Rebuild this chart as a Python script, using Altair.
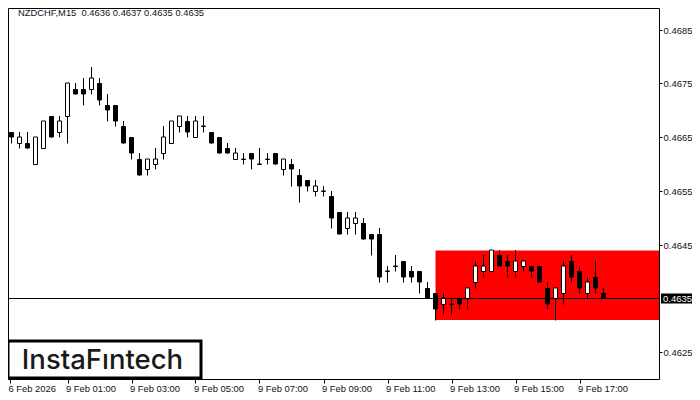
import altair as alt
import json
import pandas as pd

# quotes of NZDCHF M15, in order from the left edge of the chart
opens = [0.4662, 0.4666, 0.4664, 0.4664, 0.4660, 0.4663, 0.4669, 0.4666, 0.4669, 0.4674,
         0.4674, 0.4674, 0.4675, 0.4671, 0.4671, 0.4667, 0.4665, 0.4661, 0.4659, 0.4660,
         0.4662, 0.4664, 0.4667, 0.4668, 0.4665, 0.4667, 0.4666, 0.4665, 0.4663, 0.4661,
         0.4661, 0.4662, 0.4660, 0.4661, 0.4662, 0.4659, 0.4660, 0.4658, 0.4657, 0.4655,
         0.4655, 0.4654, 0.4651, 0.4648, 0.4649, 0.4649, 0.4647, 0.4647, 0.4640, 0.4641,
         0.4642, 0.4640, 0.4640, 0.4637, 0.4636, 0.4634, 0.4634, 0.4635, 0.4635, 0.4638,
         0.4640, 0.4640, 0.4643, 0.4642, 0.4640, 0.4641, 0.4641, 0.4641, 0.4637, 0.4635,
         0.4636, 0.4642, 0.4640, 0.4636, 0.4639, 0.4636]
highs = [0.4665, 0.4666, 0.4666, 0.4666, 0.4665, 0.4668, 0.4669, 0.4669, 0.4675, 0.4675,
         0.4676, 0.4678, 0.4676, 0.4673, 0.4671, 0.4668, 0.4665, 0.4662, 0.4661, 0.4663,
         0.4667, 0.4668, 0.4669, 0.4669, 0.4669, 0.4669, 0.4666, 0.4665, 0.4664, 0.4663,
         0.4662, 0.4662, 0.4663, 0.4662, 0.4662, 0.4661, 0.4661, 0.4659, 0.4657, 0.4657,
         0.4656, 0.4655, 0.4651, 0.4651, 0.4651, 0.4650, 0.4647, 0.4648, 0.4641, 0.4643,
         0.4642, 0.4641, 0.4640, 0.4638, 0.4636, 0.4636, 0.4635, 0.4635, 0.4637, 0.4642,
         0.4643, 0.4644, 0.4644, 0.4643, 0.4644, 0.4642, 0.4641, 0.4641, 0.4638, 0.4637,
         0.4642, 0.4643, 0.4641, 0.4639, 0.4642, 0.4637]
lows = [0.4662, 0.4664, 0.4663, 0.4663, 0.4660, 0.4663, 0.4665, 0.4665, 0.4664, 0.4673,
        0.4671, 0.4673, 0.4671, 0.4668, 0.4667, 0.4664, 0.4661, 0.4658, 0.4658, 0.4659,
        0.4661, 0.4664, 0.4666, 0.4665, 0.4665, 0.4666, 0.4664, 0.4662, 0.4662, 0.4661,
        0.4660, 0.4659, 0.4660, 0.4660, 0.4660, 0.4658, 0.4656, 0.4653, 0.4655, 0.4654,
        0.4654, 0.4648, 0.4647, 0.4647, 0.4647, 0.4646, 0.4643, 0.4638, 0.4638, 0.4640,
        0.4638, 0.4638, 0.4636, 0.4635, 0.4631, 0.4632, 0.4632, 0.4633, 0.4633, 0.4637,
        0.4639, 0.4640, 0.4641, 0.4639, 0.4639, 0.4640, 0.4639, 0.4638, 0.4633, 0.4631,
        0.4634, 0.4638, 0.4636, 0.4635, 0.4636, 0.4635]
closes = [0.4665, 0.4665, 0.4665, 0.4663, 0.4665, 0.4668, 0.4665, 0.4668, 0.4675, 0.4673,
          0.4673, 0.4676, 0.4672, 0.4670, 0.4668, 0.4664, 0.4662, 0.4658, 0.4661, 0.4661,
          0.4665, 0.4668, 0.4669, 0.4666, 0.4668, 0.4667, 0.4664, 0.4662, 0.4662, 0.4662,
          0.4661, 0.4661, 0.4660, 0.4661, 0.4660, 0.4661, 0.4659, 0.4656, 0.4656, 0.4656,
          0.4655, 0.4650, 0.4647, 0.4650, 0.4650, 0.4646, 0.4646, 0.4639, 0.4640, 0.4641,
          0.4639, 0.4639, 0.4638, 0.4635, 0.4633, 0.4635, 0.4634, 0.4634, 0.4637, 0.4641,
          0.4641, 0.4644, 0.4641, 0.4641, 0.4642, 0.4642, 0.4640, 0.4638, 0.4634, 0.4637,
          0.4641, 0.4639, 0.4637, 0.4638, 0.4637, 0.4635]

# 0.4635 is shown by the black price tag
price_ticks = [0.4625, 0.4645, 0.4655, 0.4665, 0.4675, 0.4685]
# first label starts at the page margin, the real one sits left of it
time_ticks = [0.8125, 8, 16, 24, 32, 40, 48, 56, 64, 72]
time_labels = ['6 Feb 2026', '9 Feb 01:00', '9 Feb 03:00', '9 Feb 05:00', '9 Feb 07:00',
               '9 Feb 09:00', '9 Feb 11:00', '9 Feb 13:00', '9 Feb 15:00', '9 Feb 17:00']

box_start = [54]
box_end = [81.9375]
box_top = [0.4644]
box_bottom = [0.4631]

header = 'NZDCHF,M15\u00a0\u00a00.4636 0.4637 0.4635 0.4635'
current_price = 0.4635
logo = 'InstaFıntech'

FONT = 'Liberation Sans'

candles = pd.DataFrame({'i': range(len(opens)), 'open': opens, 'high': highs, 'low': lows, 'close': closes})
candles['up'] = candles['close'] >= candles['open']

label_expr = json.dumps(time_labels) + '[indexof(' + json.dumps(time_ticks) + ', datum.value)]'

x_scale = alt.Scale(domain=[0.5625, 81.9375], nice=False, zero=False)
y_scale = alt.Scale(domain=[0.461997, 0.468906], nice=False, zero=False, round=True)

x_enc = alt.X('i:Q', scale=x_scale, title=None,
              axis=alt.Axis(values=time_ticks, labelExpr=label_expr, labelAlign='left', labelPadding=1,
                            labelOffset=-2, tickSize=4, tickColor='black', domain=False, grid=False,
                            labelFont=FONT, labelFontSize=9.4, labelColor='#101018', labelOverlap=False,
                            labelFlush=False))
y_enc = alt.Y('low:Q', scale=y_scale, title=None,
              axis=alt.Axis(orient='right', values=price_ticks, format='.4f', tickSize=3, tickColor='black',
                            domain=False, grid=False, labelPadding=1, labelFont=FONT, labelFontSize=9.5,
                            labelColor='#101018', labelOverlap=False))

red_box = alt.Chart(pd.DataFrame({'a': box_start, 'b': box_end, 'top': box_top, 'bottom': box_bottom})).mark_rect(
    color='#ff0000', clip=True, yOffset=0.5).encode(
        x=alt.X('a:Q', scale=x_scale),
        x2='b:Q',
        y=alt.Y('top:Q', scale=y_scale),
        y2='bottom:Q')

wicks = alt.Chart(candles).mark_rule(color='black', strokeWidth=1, clip=True, yOffset=0.5).encode(
    x=x_enc,
    y=y_enc,
    y2='high:Q')

bodies = alt.Chart(candles).mark_rect(width=4, stroke='black', strokeWidth=1, clip=True, yOffset=0.5).encode(
    x=alt.X('i:Q', scale=x_scale),
    y=alt.Y('open:Q', scale=y_scale),
    y2='close:Q',
    fill=alt.Fill('up:N', scale=alt.Scale(domain=[True, False], range=['white', 'black']), legend=None))

price_frame = pd.DataFrame({'price': [current_price], 'label': [f'{current_price:.4f}']})

price_line = alt.Chart(price_frame).mark_rule(color='black', strokeWidth=1, yOffset=0.5).encode(
    y=alt.Y('price:Q', scale=y_scale))

price_tag = alt.Chart(price_frame).mark_rect(color='black', height=10, yOffset=0.5).encode(
    x=alt.value(653),
    x2=alt.value(684),
    y=alt.Y('price:Q', scale=y_scale))

price_text = alt.Chart(price_frame).mark_text(color='white', font=FONT, fontSize=9.5, align='left', yOffset=0.5).encode(
    x=alt.value(655),
    y=alt.Y('price:Q', scale=y_scale),
    text='label:N')

header_text = alt.Chart(pd.DataFrame({'t': [header]})).mark_text(
    font=FONT, fontSize=9.4, color='#101018', align='left', baseline='alphabetic').encode(
        x=alt.value(10),
        y=alt.value(8),
        text='t:N')

logo_box = alt.Chart(pd.DataFrame({'t': [logo]})).mark_rect(fill='white', stroke='black', strokeWidth=3).encode(
    x=alt.value(0),
    x2=alt.value(193),
    y=alt.value(333),
    y2=alt.value(370))

logo_text = alt.Chart(pd.DataFrame({'t': [logo]})).mark_text(
    font='Inter', fontSize=27.5, fontWeight=500, color='#1a1a1a', align='center', baseline='alphabetic').encode(
        x=alt.value(94.5),
        y=alt.value(361),
        text='t:N')

chart = alt.layer(
    red_box, wicks, bodies, price_line, price_tag, price_text, header_text, logo_box, logo_text
).resolve_scale(fill='independent').properties(
    width=651,
    height=371,
    padding={'left': 0, 'top': 0, 'right': 33, 'bottom': 17},
    autosize='none',
    background='white',
).configure_view(stroke='black')

chart.save("out.html", embed_options={"renderer": "svg", "actions": False})
